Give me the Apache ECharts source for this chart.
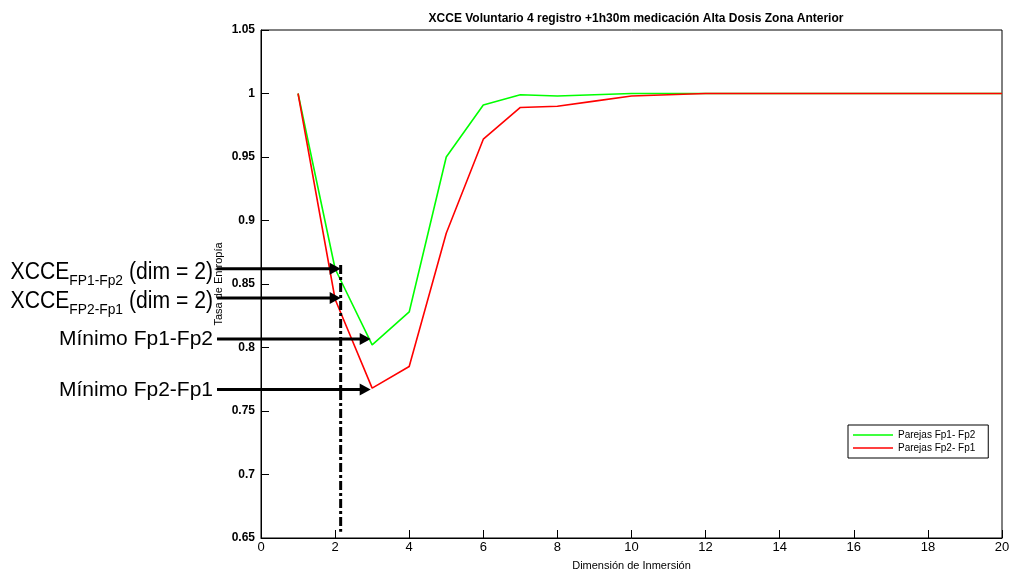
<!DOCTYPE html>
<html>
<head>
<meta charset="utf-8">
<script src="https://cdn.jsdelivr.net/npm/echarts@6/dist/echarts.min.js"></script>
<style>
  html, body { margin: 0; padding: 0; background: #fff; }
  #chart { width: 1011px; height: 574px; }
</style>
</head>
<body>
<div id="chart"></div>
<script>
// Embedding dimension (x) and entropy rate per pair ordering
const dims = [1, 2, 3, 4, 5, 6, 7, 8, 9, 10, 11, 12, 13, 14, 15, 16, 17, 18, 19, 20];
const fp1fp2 = [1.000, 0.862, 0.802, 0.828, 0.950, 0.991, 0.999, 0.998, 0.999, 1.000,
                1.000, 1.000, 1.000, 1.000, 1.000, 1.000, 1.000, 1.000, 1.000, 1.000];
const fp2fp1 = [1.000, 0.838, 0.768, 0.785, 0.890, 0.964, 0.989, 0.990, 0.994, 0.998,
                0.999, 1.000, 1.000, 1.000, 1.000, 1.000, 1.000, 1.000, 1.000, 1.000];
const seriesNames = ['Parejas Fp1- Fp2', 'Parejas Fp2- Fp1'];

// Callouts: main text, subscript, trailing text, level pointed at, arrow tip x (data units)
const calloutMain = ['XCCE', 'XCCE', 'Mínimo Fp1-Fp2', 'Mínimo Fp2-Fp1'];
const calloutSub = ['FP1-Fp2', 'FP2-Fp1', '', ''];
const calloutTail = [' (dim = 2)', ' (dim = 2)', '', ''];
const calloutY = [0.862, 0.839, 0.8066, 0.767];
const calloutTipX = [2.15, 2.15, 2.96, 2.96];
// vertical dash-dot marker at dim ≈ 2
const markerX = 2.15;
const markerRange = [0.865, 0.655];

const chart = echarts.init(document.getElementById('chart'), null, { renderer: 'canvas' });

const font = 'Liberation Sans, Arial, Helvetica, sans-serif';

chart.setOption({
  animation: false,
  backgroundColor: '#fff',
  textStyle: { fontFamily: font },
  title: {
    text: 'XCCE Voluntario 4 registro +1h30m medicación Alta Dosis Zona Anterior',
    left: 631,
    textAlign: 'center',
    top: 8,
    textStyle: { fontSize: 12, fontWeight: 'bold', color: '#000', fontFamily: font }
  },
  grid: {
    left: 261, right: 9, top: 30, bottom: 36,
    outerBoundsMode: 'none',
    containLabel: false,
    show: true, borderColor: '#000', borderWidth: 1, backgroundColor: '#fff'
  },
  xAxis: {
    type: 'value', min: 0, max: 20, interval: 2,
    name: 'Dimensión de Inmersión', nameLocation: 'middle', nameGap: 22,
    nameTextStyle: { fontSize: 11, color: '#000' },
    axisLine: { show: true, onZero: false, lineStyle: { color: '#000', width: 1 } },
    axisTick: { show: true, inside: true, length: 8, lineStyle: { color: '#000' } },
    axisLabel: { fontSize: 13, color: '#000', margin: 3 },
    splitLine: { show: false }
  },
  yAxis: {
    type: 'value', min: 0.65, max: 1.05, interval: 0.05,
    name: 'Tasa de Entropía', nameLocation: 'middle', nameGap: 37, nameRotate: 90,
    nameMoveOverlap: false,
    nameTextStyle: { fontSize: 11, color: '#000' },
    axisLine: { show: true, onZero: false, lineStyle: { color: '#000', width: 1 } },
    axisTick: { show: true, inside: true, length: 8, lineStyle: { color: '#000' } },
    axisLabel: { fontSize: 12, color: '#000', fontWeight: 'bold', margin: 6 },
    splitLine: { show: false }
  },
  legend: {
    orient: 'vertical',
    left: 848, top: 425,
    padding: [5, 13, 5, 5],
    itemWidth: 40, itemHeight: 14, itemGap: 3,
    borderColor: '#000', borderWidth: 1, backgroundColor: '#fff',
    textStyle: { fontSize: 10, color: '#000' },
    data: seriesNames.map(n => ({ name: n, icon: 'path://M0,0 L40,0 L40,1.5 L0,1.5 Z' }))
  },
  series: [
    {
      name: seriesNames[0], type: 'line', showSymbol: false, symbol: 'none',
      data: dims.map((d, i) => [d, fp1fp2[i]]),
      lineStyle: { color: '#00ff00', width: 1.6 }, itemStyle: { color: '#00ff00' }, z: 2
    },
    {
      name: seriesNames[1], type: 'line', showSymbol: false, symbol: 'none',
      data: dims.map((d, i) => [d, fp2fp1[i]]),
      lineStyle: { color: '#ff0000', width: 1.6 }, itemStyle: { color: '#ff0000' }, z: 3
    }
  ]
});

// text width helper for laying out label pieces side by side
const measureCtx = document.createElement('canvas').getContext('2d');
function textWidth(str, size) {
  measureCtx.font = size + 'px ' + font;
  return measureCtx.measureText(str).width;
}

// Callout arrows, labels and the dash-dot marker, placed through the grid's scales
function buildCallouts() {
  const toPx = p => chart.convertToPixel({ gridIndex: 0 }, p);
  const els = [];
  const arrowStartX = 217;
  const labelRight = 213;
  const headLen = 11, headHalf = 6;
  calloutY.forEach((yv, i) => {
    const tip = toPx([calloutTipX[i], yv]);
    const ay = tip[1];
    els.push({
      type: 'line', z: 100,
      shape: { x1: arrowStartX, y1: ay, x2: tip[0] - headLen + 1, y2: ay },
      style: { stroke: '#000', lineWidth: 3 }
    });
    els.push({
      type: 'polygon', z: 100,
      shape: { points: [[tip[0], ay], [tip[0] - headLen, ay - headHalf], [tip[0] - headLen, ay + headHalf]] },
      style: { fill: '#000' }
    });

    if (calloutSub[i]) {
      // main text, subscript, then the trailing part, condensed horizontally
      const big = 23, small = 15, sx = 0.92;
      const w1 = textWidth(calloutMain[i], big) * sx;
      const w2 = textWidth(calloutSub[i], small) * sx;
      const w3 = textWidth(calloutTail[i], big) * sx;
      let x = labelRight - (w1 + w2 + w3);
      const baseline = ay + 12;
      const mainMid = baseline - 0.3465 * big;
      const subMid = baseline + 5 - 0.3465 * small;
      [[calloutMain[i], big, mainMid, w1], [calloutSub[i], small, subMid, w2], [calloutTail[i], big, mainMid, w3]]
        .forEach(([str, size, my, w]) => {
          els.push({
            type: 'text', z: 100, x: x, y: my, scaleX: sx,
            style: { text: str, align: 'left', verticalAlign: 'middle', fill: '#000', font: size + 'px ' + font }
          });
          x += w;
        });
    } else {
      els.push({
        type: 'text', z: 100, x: labelRight, y: ay + 0.5,
        style: { text: calloutMain[i], align: 'right', verticalAlign: 'middle', fill: '#000', font: '21px ' + font }
      });
    }
  });
  const top = toPx([markerX, markerRange[0]]);
  const bot = toPx([markerX, markerRange[1]]);
  els.push({
    type: 'line', z: 99,
    shape: { x1: top[0], y1: top[1], x2: bot[0], y2: bot[1] },
    style: { stroke: '#000', lineWidth: 3, lineDash: [9, 3, 3, 3] }
  });
  chart.setOption({ graphic: { elements: els } });
}
buildCallouts();
</script>
</body>
</html>
